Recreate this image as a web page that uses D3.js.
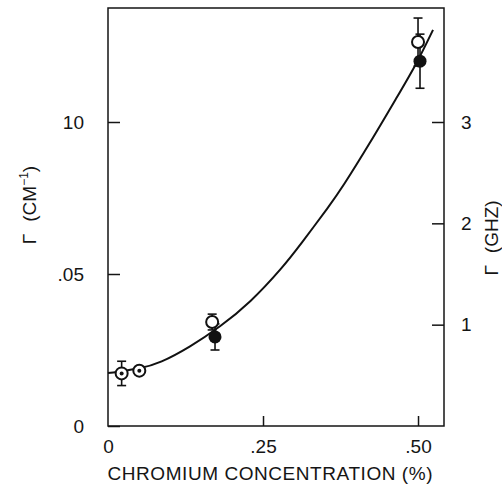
<!DOCTYPE html>
<html>
<head>
<meta charset="utf-8">
<script src="https://cdn.jsdelivr.net/npm/d3@7"></script>
<style>
  body { margin: 0; background: #fff; }
  svg text { font-family: "Liberation Sans", Arial, sans-serif; fill: #151515; }
</style>
</head>
<body>
<svg id="chart" width="502" height="487"></svg>
<script>
// data
var xTicks = [0, 0.25, 0.5];
var xTickLabels = ['0', '.25', '.50'];
var yTicks = [0, 0.05, 0.10];
var yTickLabels = ['0', '.05', '10'];
var ghzTicks = [1, 2, 3];

// open circles (first two have a dot inside)
var openX = [0.022, 0.0505, 0.168, 0.500];
var openY = [0.0173, 0.0182, 0.0342, 0.1263];
var openErr = [0.0040, 0, 0.0026, 0.0079];
var openDot = [true, true, false, false];

// filled circles
var filledX = [0.1726, 0.5032];
var filledY = [0.0293, 0.1200];
var filledErr = [0.0043, 0.0089];

// fitted curve
var curveX = [0, 0.0516, 0.0839, 0.1323, 0.1806, 0.2290, 0.2823, 0.3097, 0.3581, 0.3774, 0.4226, 0.4661, 0.4984, 0.5242];
var curveY = [0.0174, 0.0188, 0.0207, 0.0260, 0.0326, 0.0405, 0.0523, 0.0595, 0.0727, 0.0783, 0.0931, 0.1082, 0.1194, 0.1303];

var cmToGhz = 30;

var margin = { left: 108, right: 58, top: 8, bottom: 61 };
var width = 502, height = 487;
var x0 = margin.left, x1 = width - margin.right;
var y0 = height - margin.bottom, y1 = margin.top;

var x = d3.scaleLinear().domain([0, 0.5419]).range([x0, x1]);
var y = d3.scaleLinear().domain([0, 0.1375]).range([y0, y1]);
var yG = d3.scaleLinear().domain([0, 0.1375 * cmToGhz]).range([y0, y1]);

var svg = d3.select('#chart');

// axes, ticks pointing inward
var fontSize = 19;

var gx = svg.append('g')
  .attr('transform', 'translate(0,' + y0 + ')')
  .call(d3.axisBottom(x).tickValues(xTicks).tickSize(-10).tickPadding(14)
    .tickFormat(function(d, i) { return xTickLabels[i]; }));

var gy = svg.append('g')
  .attr('transform', 'translate(' + x0 + ',0)')
  .call(d3.axisLeft(y).tickValues(yTicks).tickSize(-12).tickPadding(24)
    .tickFormat(function(d, i) { return yTickLabels[i]; }));

var gr = svg.append('g')
  .attr('transform', 'translate(' + x1 + ',0)')
  .call(d3.axisRight(yG).tickValues(ghzTicks).tickSize(-12).tickPadding(17)
    .tickFormat(d3.format('d')));

[gx, gy, gr].forEach(function(g) {
  g.select('.domain').remove();
  g.selectAll('line').attr('stroke', '#151515').attr('stroke-width', 1.5);
  g.selectAll('text').attr('font-size', fontSize)
    .attr('font-family', '"Liberation Sans", Arial, sans-serif').attr('fill', '#151515');
});
gx.selectAll('.tick').filter(function(d) { return d === 0; }).select('line').remove();

// frame
svg.append('rect')
  .attr('x', x0).attr('y', y1)
  .attr('width', x1 - x0).attr('height', y0 - y1)
  .attr('fill', 'none').attr('stroke', '#151515').attr('stroke-width', 1.5);

// curve
var line = d3.line()
  .x(function(d) { return x(d[0]); })
  .y(function(d) { return y(d[1]); })
  .curve(d3.curveBasis);

svg.append('path')
  .datum(d3.zip(curveX, curveY))
  .attr('d', line)
  .attr('fill', 'none').attr('stroke', '#111').attr('stroke-width', 2);

// error bars
var bars = d3.zip(openX, openY, openErr).concat(d3.zip(filledX, filledY, filledErr))
  .filter(function(d) { return d[2] > 0; });

var eb = svg.append('g').attr('stroke', '#111').attr('stroke-width', 1.6);
bars.forEach(function(d) {
  var cx = x(d[0]), top = y(d[1] + d[2]), bot = y(d[1] - d[2]);
  eb.append('line').attr('x1', cx).attr('x2', cx).attr('y1', top).attr('y2', bot);
  eb.append('line').attr('x1', cx - 4.5).attr('x2', cx + 4.5).attr('y1', top).attr('y2', top);
  eb.append('line').attr('x1', cx - 4.5).attr('x2', cx + 4.5).attr('y1', bot).attr('y2', bot);
});

// open circles
var openPts = d3.zip(openX, openY, openDot);
svg.append('g').selectAll('circle')
  .data(openPts)
  .enter().append('circle')
  .attr('cx', function(d) { return x(d[0]); })
  .attr('cy', function(d) { return y(d[1]); })
  .attr('r', 6)
  .attr('fill', '#fff').attr('stroke', '#111').attr('stroke-width', 2);

svg.append('g').selectAll('circle')
  .data(openPts.filter(function(d) { return d[2]; }))
  .enter().append('circle')
  .attr('cx', function(d) { return x(d[0]); })
  .attr('cy', function(d) { return y(d[1]); })
  .attr('r', 2).attr('fill', '#111');

// filled circles
svg.append('g').selectAll('circle')
  .data(d3.zip(filledX, filledY))
  .enter().append('circle')
  .attr('cx', function(d) { return x(d[0]); })
  .attr('cy', function(d) { return y(d[1]); })
  .attr('r', 6.5).attr('fill', '#111');

// axis titles
svg.append('text')
  .attr('x', (x0 + x1) / 2 - 6).attr('y', 480)
  .attr('text-anchor', 'middle')
  .attr('font-size', fontSize)
  .attr('textLength', 325)
  .text('CHROMIUM CONCENTRATION (%)');

var lt = svg.append('text')
  .attr('transform', 'translate(36,205) rotate(-90)')
  .attr('text-anchor', 'middle')
  .attr('font-size', fontSize);
lt.append('tspan').text('Γ');
lt.append('tspan').attr('dx', 12).text('(CM');
lt.append('tspan').attr('font-size', 12).attr('dy', -8).text('−1');
lt.append('tspan').attr('dy', 8).text(')');

var rt = svg.append('text')
  .attr('transform', 'translate(498,238) rotate(-90)')
  .attr('text-anchor', 'middle')
  .attr('font-size', fontSize);
rt.append('tspan').text('Γ');
rt.append('tspan').attr('dx', 12).text('(GHZ)');
</script>
</body>
</html>
